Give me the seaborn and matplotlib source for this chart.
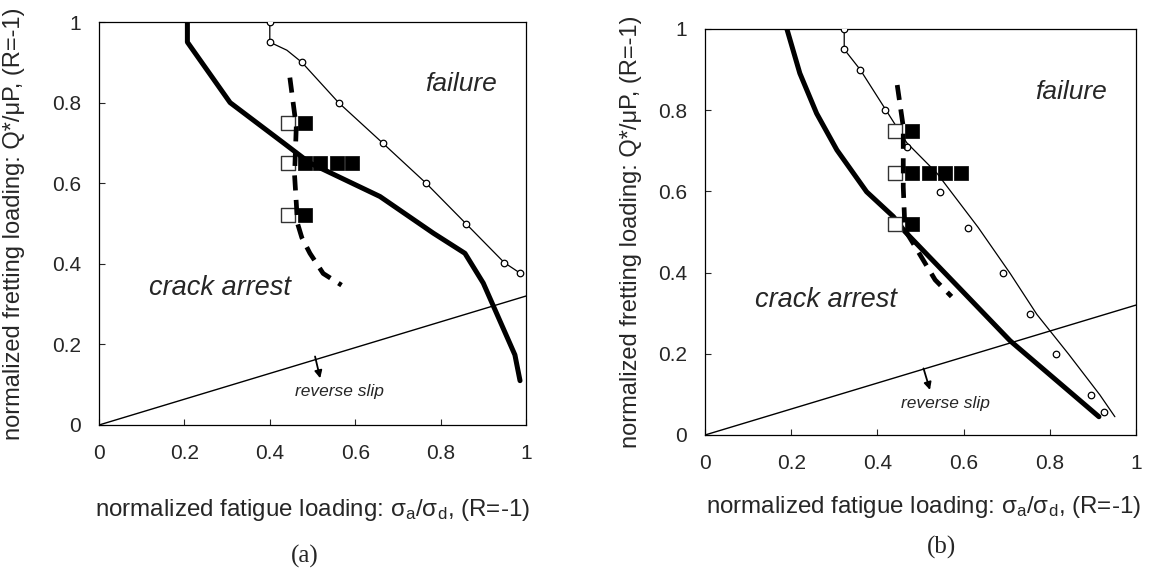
import numpy as np
import pandas as pd
import matplotlib
matplotlib.use("Agg")
import matplotlib.pyplot as plt
import seaborn as sns

# ---- data ----
# panel (a)
thick_a_x = [0.207, 0.207, 0.307, 0.432, 0.494, 0.658, 0.783, 0.857, 0.900, 0.974, 0.986]
thick_a_y = [1.00, 0.95, 0.80, 0.70, 0.65, 0.567, 0.476, 0.426, 0.352, 0.174, 0.11]

thin_a_x = [0.400, 0.400, 0.440, 0.475, 0.561, 0.664, 0.766, 0.859, 0.949, 0.986]
thin_a_y = [1.00, 0.95, 0.93, 0.90, 0.80, 0.70, 0.60, 0.50, 0.403, 0.377]

circ_a_x = [0.400, 0.400, 0.475, 0.561, 0.664, 0.766, 0.859, 0.949, 0.986]
circ_a_y = [1.00, 0.95, 0.90, 0.80, 0.70, 0.60, 0.50, 0.403, 0.377]

dash_a_x = [0.447, 0.462, 0.458, 0.465, 0.475, 0.494, 0.525, 0.568]
dash_a_y = [0.862, 0.74, 0.62, 0.50, 0.465, 0.426, 0.376, 0.347]

open_a_x = [0.443, 0.443, 0.443]
open_a_y = [0.75, 0.65, 0.52]
full_a_x = [0.482, 0.482, 0.518, 0.557, 0.592, 0.482]
full_a_y = [0.75, 0.65, 0.65, 0.65, 0.65, 0.52]

# panel (b)
thick_b_x = [0.190, 0.220, 0.259, 0.306, 0.375, 0.437, 0.464, 0.592, 0.708, 0.914]
thick_b_y = [1.00, 0.891, 0.792, 0.702, 0.599, 0.538, 0.501, 0.36, 0.232, 0.045]

thin_b_x = [0.323, 0.323, 0.360, 0.420, 0.468, 0.538, 0.634, 0.708, 0.770, 0.843, 0.916, 0.951]
thin_b_y = [1.00, 0.95, 0.90, 0.80, 0.72, 0.645, 0.511, 0.398, 0.297, 0.20, 0.099, 0.045]

circ_b_x = [0.323, 0.323, 0.360, 0.418, 0.468, 0.545, 0.611, 0.691, 0.754, 0.814, 0.896, 0.926]
circ_b_y = [1.00, 0.95, 0.90, 0.80, 0.71, 0.599, 0.511, 0.398, 0.297, 0.20, 0.099, 0.056]

dash_b_x = [0.446, 0.460, 0.460, 0.464, 0.483, 0.534, 0.572]
dash_b_y = [0.862, 0.759, 0.611, 0.505, 0.472, 0.382, 0.341]

open_b_x = [0.440, 0.440, 0.440]
open_b_y = [0.75, 0.645, 0.52]
full_b_x = [0.481, 0.481, 0.520, 0.557, 0.594, 0.481]
full_b_y = [0.75, 0.645, 0.645, 0.645, 0.645, 0.52]

# reverse slip boundary (same in both)
slip_x = [0.0, 1.0]
slip_y = [0.0, 0.32]

ticks = [0, 0.2, 0.4, 0.6, 0.8, 1]
tick_labels = ["0", "0.2", "0.4", "0.6", "0.8", "1"]

xlab = r"normalized fatigue loading: $\mathrm{\sigma_a/\sigma_d}$, (R=-1)"
ylab = "normalized fretting loading: Q*/\u03bcP, (R=-1)"

sns.set_style("ticks")
plt.rcParams["font.family"] = ["Liberation Sans", "DejaVu Sans"]
plt.rcParams["mathtext.fontset"] = "custom"
plt.rcParams["mathtext.rm"] = "Liberation Sans"
plt.rcParams["mathtext.it"] = "Liberation Sans:italic"

fig = plt.figure(figsize=(11.52, 5.79), dpi=100)
ax_a = fig.add_axes([99 / 1152, 1 - 425 / 579, 427 / 1152, 403 / 579])
ax_b = fig.add_axes([705 / 1152, 1 - 435 / 579, 431 / 1152, 406 / 579])


def draw_panel(ax, thick_x, thick_y, thin_x, thin_y, cx, cy, dx, dy,
               ox, oy, fx, fy, crack_xy, fail_xy, slip_txt_xy, arrow_from, arrow_to):
    sns.lineplot(x=slip_x, y=slip_y, ax=ax, color="black", lw=1.0,
                 sort=False, estimator=None, zorder=1)
    sns.lineplot(x=thin_x, y=thin_y, ax=ax, color="black", lw=0.9,
                 sort=False, estimator=None, zorder=2)
    sns.scatterplot(x=cx, y=cy, ax=ax, marker="o", s=22, facecolor="white",
                    edgecolor="black", linewidth=0.9, zorder=3)
    sns.lineplot(x=thick_x, y=thick_y, ax=ax, color="black", lw=3.6,
                 sort=False, estimator=None, zorder=3)
    sns.scatterplot(x=ox, y=oy, ax=ax, marker="s", s=110, facecolor="white",
                    edgecolor="#333333", linewidth=1.0, zorder=4)
    sns.scatterplot(x=fx, y=fy, ax=ax, marker="s", s=95, color="black",
                    edgecolor="black", linewidth=0.5, zorder=4)
    sns.lineplot(x=dx, y=dy, ax=ax, color="black", lw=3.4,
                 linestyle=(0, (3.2, 2.0)), sort=False, estimator=None, zorder=5)

    ax.text(crack_xy[0], crack_xy[1], "crack arrest", fontsize=19.5,
            style="italic", ha="left", va="center")
    ax.text(fail_xy[0], fail_xy[1], "failure", fontsize=19,
            style="italic", ha="center", va="center")
    ax.text(slip_txt_xy[0], slip_txt_xy[1], "reverse slip", fontsize=12.5,
            style="italic", ha="center", va="center")
    ax.annotate("", xy=arrow_to, xytext=arrow_from,
                arrowprops=dict(arrowstyle="-|>", color="black", lw=1.3,
                                mutation_scale=11, shrinkA=0, shrinkB=0))

    ax.set_xlim(0, 1)
    ax.set_ylim(0, 1)
    ax.set_xticks(ticks)
    ax.set_xticklabels(tick_labels)
    ax.set_yticks(ticks)
    ax.set_yticklabels(tick_labels)
    ax.tick_params(axis="both", direction="in", length=4.5, width=0.8,
                   labelsize=15, top=False, right=False)
    ax.tick_params(axis="x", pad=14)
    ax.tick_params(axis="y", pad=13)
    for sp in ax.spines.values():
        sp.set_visible(True)
        sp.set_linewidth(0.9)
        sp.set_color("black")
    ax.set_xlabel(xlab, fontsize=17.4, va="center")
    ax.set_ylabel(ylab, fontsize=17, va="center")


draw_panel(ax_a, thick_a_x, thick_a_y, thin_a_x, thin_a_y, circ_a_x, circ_a_y,
           dash_a_x, dash_a_y, open_a_x, open_a_y, full_a_x, full_a_y,
           (0.117, 0.34), (0.847, 0.845), (0.564, 0.083), (0.506, 0.17), (0.518, 0.116))
draw_panel(ax_b, thick_b_x, thick_b_y, thin_b_x, thin_b_y, circ_b_x, circ_b_y,
           dash_b_x, dash_b_y, open_b_x, open_b_y, full_b_x, full_b_y,
           (0.116, 0.333), (0.85, 0.846), (0.557, 0.078), (0.507, 0.164), (0.522, 0.111))

ax_a.xaxis.set_label_coords(0.499, -0.211)
ax_a.yaxis.set_label_coords(-0.200, 0.5)
ax_b.xaxis.set_label_coords(0.506, -0.177)
ax_b.yaxis.set_label_coords(-0.172, 0.5)

fig.text(305 / 1152, 1 - 556 / 579, "(a)", fontsize=18, family="Liberation Serif",
         ha="center", va="center")
fig.text(942 / 1152, 1 - 547 / 579, "(b)", fontsize=18, family="Liberation Serif",
         ha="center", va="center")

fig.savefig("out.png", dpi=100)
